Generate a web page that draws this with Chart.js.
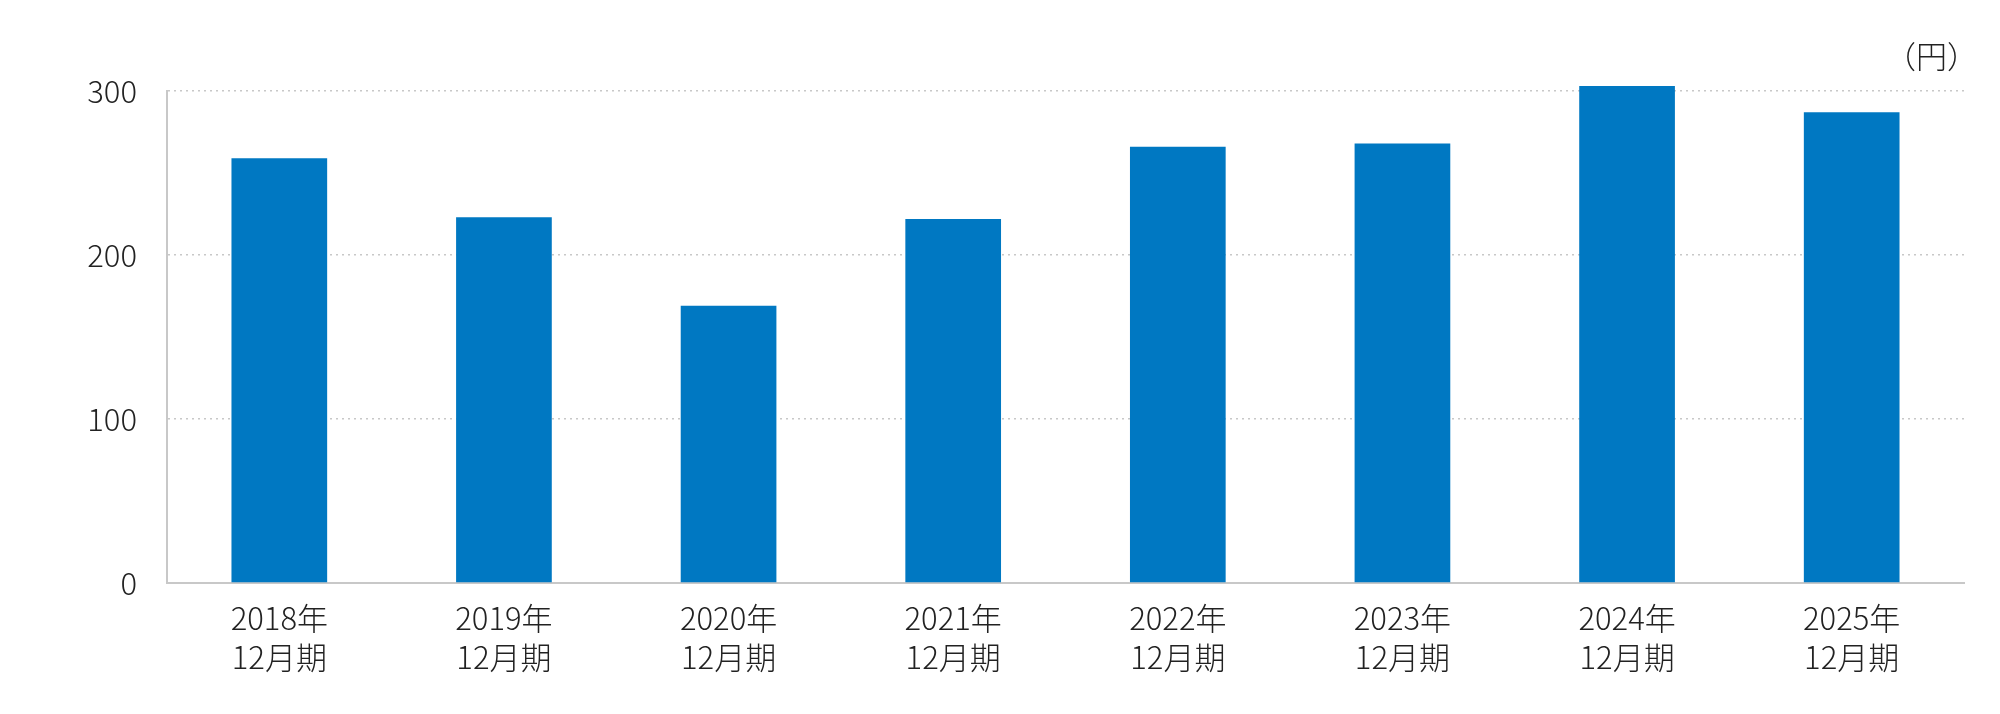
<!DOCTYPE html>
<html>
<head>
<meta charset="utf-8">
<script src="https://cdn.jsdelivr.net/npm/chart.js@4"></script>
<style>
  html, body { margin: 0; padding: 0; background: #fff; }
  #wrap { width: 2000px; height: 714px; position: relative; }
</style>
</head>
<body>
<div id="wrap"><canvas id="c" width="2000" height="714"></canvas></div>
<script>
const categories = [
  ["2018年", "12月期"],
  ["2019年", "12月期"],
  ["2020年", "12月期"],
  ["2021年", "12月期"],
  ["2022年", "12月期"],
  ["2023年", "12月期"],
  ["2024年", "12月期"],
  ["2025年", "12月期"]
];
const values = [259, 223, 169, 222, 266, 268, 303, 287];
const yTicks = [0, 100, 200, 300];
const unitLabel = "（円）";

const FONT = '"Noto Sans CJK JP", "Noto Sans", sans-serif';

const unitPlugin = {
  id: 'unitLabel',
  afterDraw(chart) {
    const { ctx, chartArea } = chart;
    ctx.save();
    ctx.font = '300 31px ' + FONT;
    ctx.fillStyle = '#222';
    ctx.textAlign = 'right';
    ctx.textBaseline = 'middle';
    ctx.fillText(unitLabel, chartArea.right + 14, chartArea.top - 35);
    ctx.restore();
  }
};

new Chart(document.getElementById('c'), {
  type: 'bar',
  data: {
    labels: categories,
    datasets: [{
      data: values,
      backgroundColor: '#0078C2',
      borderWidth: 0,
      categoryPercentage: 1.0,
      barPercentage: 0.426,
      clip: false
    }]
  },
  options: {
    responsive: false,
    animation: false,
    devicePixelRatio: 1,
    layout: { padding: { top: 91, right: 36, left: 0, bottom: 0 } },
    plugins: {
      legend: { display: false },
      tooltip: { enabled: false }
    },
    scales: {
      x: {
        grid: { display: false, drawTicks: false },
        border: { display: true, color: '#c8c8c8', width: 2 },
        ticks: {
          color: '#222',
          font: { family: FONT, size: 31, weight: 300, lineHeight: 1.28 },
          padding: 15,
          maxRotation: 0,
          autoSkip: false
        },
        afterFit(scale) { scale.height = 714 - 583; }
      },
      y: {
        min: 0,
        max: 300,
        afterBuildTicks(scale) { scale.ticks = yTicks.map(v => ({ value: v })); },
        grid: {
          color: '#c8c8c8',
          lineWidth: 1.5,
          drawTicks: false
        },
        border: { display: true, color: '#c8c8c8', width: 2, dash: [2, 4] },
        ticks: {
          color: '#222',
          font: { family: FONT, size: 31, weight: 300 },
          padding: 30
        },
        afterFit(scale) { scale.width = 167; }
      }
    }
  },
  plugins: [unitPlugin]
});
</script>
</body>
</html>
